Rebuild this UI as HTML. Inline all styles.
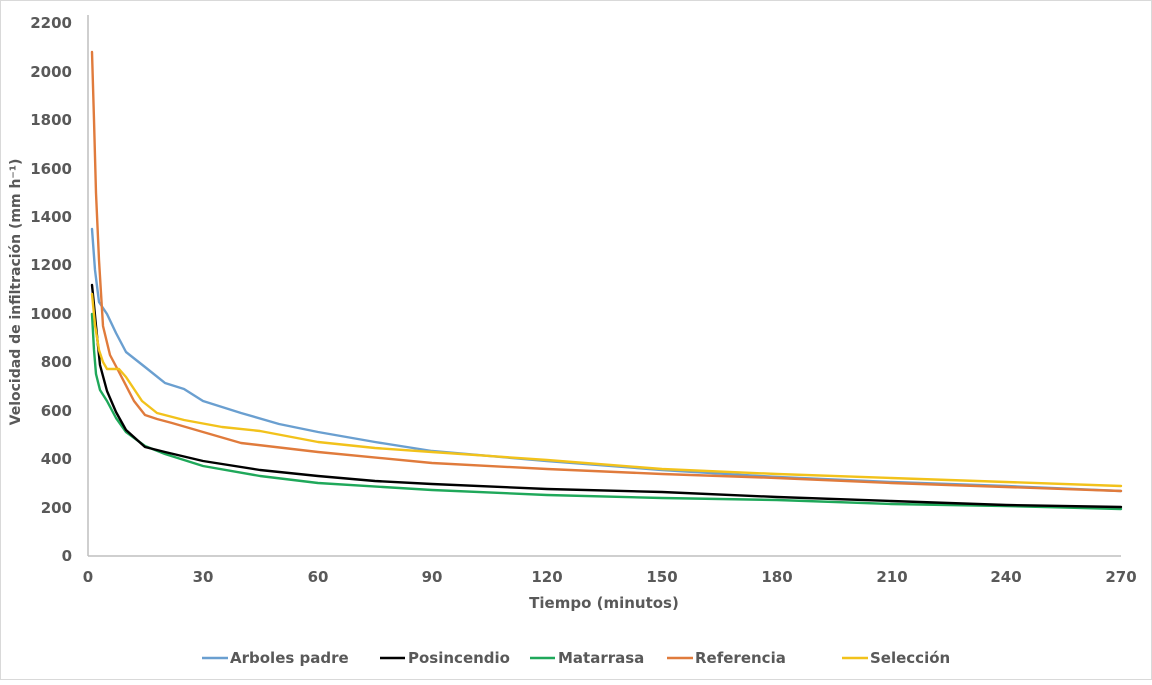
<!DOCTYPE html>
<html><head><meta charset="utf-8"><style>
body{margin:0;background:#fff}
svg text{font-family:"DejaVu Sans",sans-serif;font-weight:bold;fill:#595959}
</style></head><body>
<svg width="1152" height="680" viewBox="0 0 1152 680" xmlns="http://www.w3.org/2000/svg">
<rect x="0.5" y="0.5" width="1151" height="679" fill="#fff" stroke="#d9d9d9"/>
<line x1="88" y1="15" x2="88" y2="556" stroke="#bfbfbf" stroke-width="1.5"/>
<line x1="88" y1="556" x2="1121" y2="556" stroke="#bfbfbf" stroke-width="1.5"/>
<g font-size="15" text-anchor="end">
<text x="72" y="561">0</text><text x="72" y="513">200</text><text x="72" y="464">400</text><text x="72" y="416">600</text><text x="72" y="367">800</text><text x="72" y="319">1000</text><text x="72" y="270">1200</text><text x="72" y="222">1400</text><text x="72" y="174">1600</text><text x="72" y="125">1800</text><text x="72" y="77">2000</text><text x="72" y="28">2200</text>
</g>
<g font-size="15" text-anchor="middle">
<text x="88" y="582">0</text><text x="203" y="582">30</text><text x="318" y="582">60</text><text x="432" y="582">90</text><text x="547" y="582">120</text><text x="662" y="582">150</text><text x="777" y="582">180</text><text x="892" y="582">210</text><text x="1006" y="582">240</text><text x="1121" y="582">270</text>
<text x="604" y="608">Tiempo (minutos)</text>
</g>
<text font-size="14" text-anchor="middle" transform="translate(20,292) rotate(-90)">Velocidad de infiltración (mm h⁻¹)</text>
<g fill="none" stroke-width="2.4" stroke-linejoin="round" stroke-linecap="round">
<polyline stroke="#6a9fd0" points="92,229 95,270 99,302 107,314 116,333 126,352 145,367 165,383 184,389 203,401 241,413 279,424 318,432 375,442 432,451 547,461 662,470 777,477 891,482 1006,486 1121,491"/>
<polyline stroke="#e07b3c" points="92,52 94,120 96,193 99,260 103,326 110,355 119,372 134,401 145,415 157,419 172,423 203,432 241,443 318,452 432,463 547,469 662,474 777,478 891,483 1006,487 1121,491"/>
<polyline stroke="#1fa85a" points="92,314 94,350 96,374 100,390 107,401 116,418 126,432 145,446 165,454 203,466 260,476 318,483 432,490 547,495 662,498 777,500 891,504 1006,506 1121,509"/>
<polyline stroke="#000000" points="92,285 94,305 96,326 100,365 107,391 116,412 126,430 145,447 165,452 203,461 260,470 318,476 375,481 432,484 547,489 662,492 777,497 891,501 1006,505 1121,507"/>
<polyline stroke="#f2c21b" points="92,294 95,325 99,350 103,362 107,369 119,369 126,377 134,389 142,401 157,413 184,420 222,427 260,431 318,442 375,448 432,452 547,460 662,469 777,474 891,478 1006,482 1121,486"/>
</g>
<g font-size="15">
<line x1="202" y1="658" x2="228" y2="658" stroke="#6a9fd0" stroke-width="2.5"/><text x="230" y="663">Arboles padre</text>
<line x1="380" y1="658" x2="405" y2="658" stroke="#000" stroke-width="2.5"/><text x="408" y="663">Posincendio</text>
<line x1="530" y1="658" x2="555" y2="658" stroke="#1fa85a" stroke-width="2.5"/><text x="558" y="663">Matarrasa</text>
<line x1="667" y1="658" x2="693" y2="658" stroke="#e07b3c" stroke-width="2.5"/><text x="695" y="663">Referencia</text>
<line x1="842" y1="658" x2="868" y2="658" stroke="#f2c21b" stroke-width="2.5"/><text x="870" y="663">Selección</text>
</g>
</svg>
</body></html>
